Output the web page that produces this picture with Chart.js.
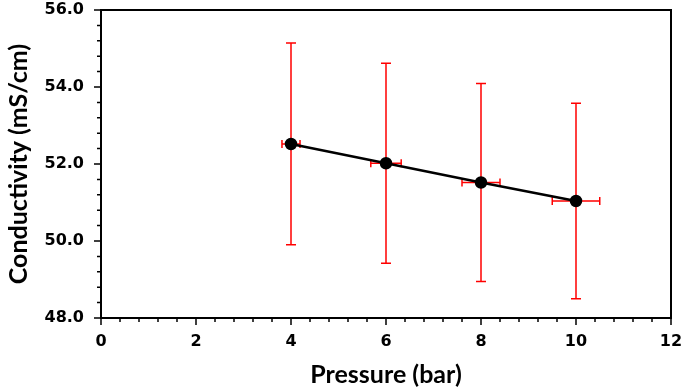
<!DOCTYPE html>
<html>
<head>
<meta charset="utf-8">
<script src="https://cdn.jsdelivr.net/npm/chart.js@4"></script>
<style>
html, body { margin: 0; padding: 0; background: #fff; }
#wrap { width: 685px; height: 391px; }
</style>
</head>
<body>
<div id="wrap"><canvas id="myChart"></canvas></div>
<script>
// values
var pressure = [4, 6, 8, 10];
var conductivity = [52.52, 52.02, 51.52, 51.04];
var conductivityErr = [2.62, 2.60, 2.57, 2.54];
var pressureErr = [0.19, 0.32, 0.40, 0.50];
var xTickStep = 2, yTickStep = 2;

// red x/y error bars, drawn under the line and points
const errorBars = {
    id: 'errorBars',
    beforeDatasetsDraw(chart) {
        const ctx = chart.ctx;
        const xs = chart.scales.x, ys = chart.scales.y;
        ctx.save();
        ctx.strokeStyle = 'rgb(255, 0, 0)';
        ctx.lineWidth = 1.5;
        for (var i = 0; i < pressure.length; i++) {
            var px = xs.getPixelForValue(pressure[i]);
            var py = ys.getPixelForValue(conductivity[i]);
            var top = ys.getPixelForValue(conductivity[i] + conductivityErr[i]);
            var bot = ys.getPixelForValue(conductivity[i] - conductivityErr[i]);
            var lft = xs.getPixelForValue(pressure[i] - pressureErr[i]);
            var rgt = xs.getPixelForValue(pressure[i] + pressureErr[i]);
            ctx.beginPath();
            ctx.moveTo(px, top); ctx.lineTo(px, bot);
            ctx.moveTo(px - 5, top); ctx.lineTo(px + 5, top);
            ctx.moveTo(px - 5, bot); ctx.lineTo(px + 5, bot);
            ctx.moveTo(lft, py); ctx.lineTo(rgt, py);
            ctx.moveTo(lft, py - 4); ctx.lineTo(lft, py + 4);
            ctx.moveTo(rgt, py - 4); ctx.lineTo(rgt, py + 4);
            ctx.stroke();
        }
        ctx.restore();
    }
};

// box around the plot plus major/minor tick marks pointing outward
const frame = {
    id: 'frame',
    afterDraw(chart) {
        const ctx = chart.ctx;
        const a = chart.chartArea;
        const xs = chart.scales.x, ys = chart.scales.y;
        ctx.save();
        ctx.strokeStyle = '#000';
        ctx.lineWidth = 1.5;
        ctx.beginPath();
        for (var i = 0; i <= 30; i++) {
            var v = xs.min + i * (xTickStep / 5);
            var p = xs.getPixelForValue(v);
            var len = (i % 5 === 0) ? 7 : 4;
            ctx.moveTo(p, a.bottom); ctx.lineTo(p, a.bottom + len);
        }
        for (var j = 0; j <= 20; j++) {
            var w = ys.min + j * (yTickStep / 5);
            var q = ys.getPixelForValue(w);
            var len2 = (j % 5 === 0) ? 7 : 4;
            ctx.moveTo(a.left, q); ctx.lineTo(a.left - len2, q);
        }
        ctx.stroke();
        ctx.lineWidth = 2;
        ctx.strokeRect(a.left, a.top, a.right - a.left, a.bottom - a.top);
        ctx.restore();
    }
};

const GRAPH = document.getElementById('myChart');
const lineGraph = new Chart(GRAPH, {
    type: 'scatter',
    data: {
        datasets: [{
            label: 'Conductivity',
            data: pressure.map(function (p, i) { return { x: p, y: conductivity[i] }; }),
            showLine: true,
            borderColor: '#000',
            backgroundColor: '#000',
            borderWidth: 2.5,
            pointRadius: 5,
            pointHoverRadius: 5,
            pointBackgroundColor: '#000',
            pointBorderColor: '#000'
        }]
    },
    plugins: [errorBars, frame],
    options: {
        responsive: true,
        maintainAspectRatio: false,
        animation: false,
        layout: { padding: { top: 10, right: 14, bottom: 0, left: 0 } },
        plugins: {
            legend: { display: false },
            tooltip: { enabled: false }
        },
        scales: {
            x: {
                type: 'linear',
                min: 0,
                max: 12,
                grid: { display: false },
                border: { display: false },
                afterFit: function (scale) {
                    scale.height = 73;
                    scale.paddingLeft = 0;
                    scale.paddingRight = 0;
                },
                ticks: {
                    stepSize: xTickStep,
                    padding: 6,
                    color: '#000',
                    font: { family: 'DejaVu Sans', size: 16, weight: 'bold' },
                    maxRotation: 0
                },
                title: {
                    display: true,
                    text: 'Pressure (bar)',
                    color: '#000',
                    font: { family: 'Lato', size: 25, weight: 'bold', lineHeight: 1.2 },
                    padding: { top: 0, bottom: 1 }
                }
            },
            y: {
                min: 48,
                max: 56,
                grid: { display: false },
                border: { display: false },
                afterFit: function (scale) {
                    scale.width = 101;
                    scale.paddingTop = 0;
                    scale.paddingBottom = 0;
                },
                ticks: {
                    stepSize: yTickStep,
                    padding: 9,
                    color: '#000',
                    font: { family: 'DejaVu Sans', size: 16, weight: 'bold' },
                    callback: function (v) { return v.toFixed(1); }
                },
                title: {
                    display: true,
                    text: 'Conductivity (mS/cm)',
                    color: '#000',
                    font: { family: 'Lato', size: 25, weight: 'bold', lineHeight: 1.2 },
                    padding: { top: 4, bottom: 0 }
                }
            }
        }
    }
});
</script>
</body>
</html>
